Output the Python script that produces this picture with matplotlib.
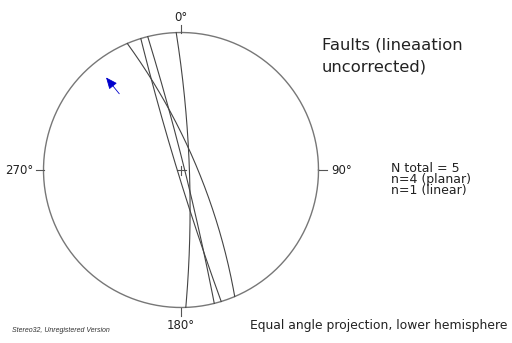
import numpy as np
import matplotlib
matplotlib.use("Agg")
import matplotlib.pyplot as plt

# planes: dip direction / dip (degrees)
dip_dirs = [88, 67, 253, 76]
dips = [83, 77, 87, 87]

# lineation: trend / plunge
lin_trend = [321]
lin_plunge = [19]

dir_labels = ["0°", "90°", "180°", "270°"]
title = "Faults (lineaation\nuncorrected)"
stats = ["N total = 5", "n=4 (planar)", "n=1 (linear)"]

W, H = 512, 343
cx, cy, R = 181, 170, 137.5


def proj(n, e, d):
    # stereographic (equal angle), lower hemisphere
    return e / (1 + d), n / (1 + d)


def great_circle(dd, dip):
    s = np.radians(dd - 90)
    ddr = np.radians(dd)
    dp = np.radians(dip)
    t = np.linspace(0, np.pi, 300)
    sv = np.array([np.cos(s), np.sin(s), 0.0])
    dv = np.array([np.cos(dp) * np.cos(ddr), np.cos(dp) * np.sin(ddr), np.sin(dp)])
    v = np.outer(np.cos(t), sv) + np.outer(np.sin(t), dv)
    return proj(v[:, 0], v[:, 1], v[:, 2])


fig = plt.figure(figsize=(W / 100, H / 100), dpi=100)
ax = fig.add_axes([0, 0, 1, 1])
ax.set_xlim(-cx / R, (W - cx) / R)
ax.set_ylim(-(H - cy) / R, cy / R)
ax.axis("off")

a = np.linspace(0, 2 * np.pi, 400)
ax.plot(np.cos(a), np.sin(a), color="#777777", lw=1.0)

tk = 8 / R
ax.plot([0, 0], [1, 1 + tk], color="#555555", lw=0.8)
ax.plot([0, 0], [-1, -1 - tk], color="#555555", lw=0.8)
ax.plot([1, 1 + tk], [0, 0], color="#555555", lw=0.8)
ax.plot([-1, -1 - tk], [0, 0], color="#555555", lw=0.8)
c = 4.5 / R
ax.plot([-c, c], [0, 0], color="#555555", lw=0.8)
ax.plot([0, 0], [-c, c], color="#555555", lw=0.8)

fs = 8.5
ax.text(0, 1 + 15 / R, dir_labels[0], ha="center", va="center", fontsize=fs, color="#222222")
ax.text(1 + 13 / R, 0, dir_labels[1], ha="left", va="center", fontsize=fs, color="#222222")
ax.text(0, -1 - 18 / R, dir_labels[2], ha="center", va="center", fontsize=fs, color="#222222")
ax.text(-1 - 10 / R, 0, dir_labels[3], ha="right", va="center", fontsize=fs, color="#222222")

for dd, dp in zip(dip_dirs, dips):
    x, y = great_circle(dd, dp)
    ax.plot(x, y, color="#444444", lw=0.8)

for tr, pl in zip(lin_trend, lin_plunge):
    trr, plr = np.radians(tr), np.radians(pl)
    x, y = proj(np.cos(plr) * np.cos(trr), np.cos(plr) * np.sin(trr), np.sin(plr))
    L = 21 / R
    hx, hy = x + L * np.sin(trr), y + L * np.cos(trr)
    ax.annotate("", xy=(hx, hy), xytext=(x, y),
                arrowprops=dict(arrowstyle="-|>,head_length=0.7,head_width=0.3",
                                color="#0000cc", lw=0.6, shrinkA=0, shrinkB=0))

fig.text(322 / W, 1 - 56 / H, title, ha="left", va="center", fontsize=11.8,
         color="#222222", linespacing=1.6)
fig.text(391 / W, 1 - 180 / H, "\n".join(stats), ha="left", va="center", fontsize=9,
         color="#222222", linespacing=0.8)
fig.text(250 / W, 1 - 326 / H, "Equal angle projection, lower hemisphere", ha="left",
         va="center", fontsize=8.9, color="#222222")
fig.text(12 / W, 1 - 331 / H, "Stereo32, Unregistered Version", ha="left", va="center",
         fontsize=5, style="italic", family="Liberation Sans", color="#333333")

fig.savefig("out.png", dpi=100)
